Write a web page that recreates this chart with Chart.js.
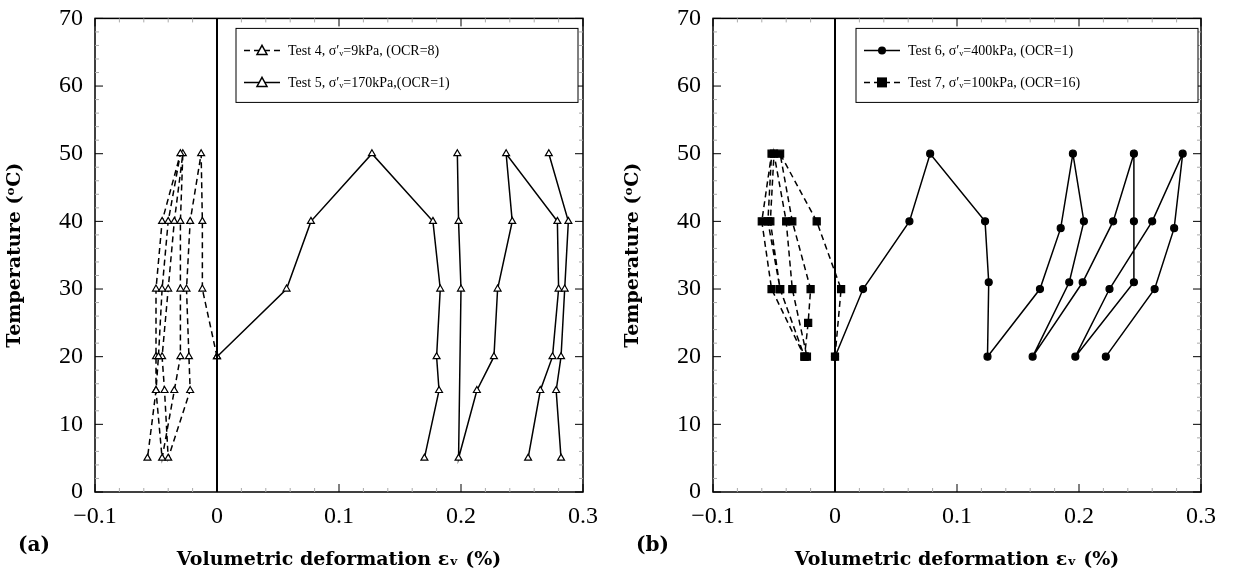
<!DOCTYPE html>
<html><head><meta charset="utf-8">
<script src="https://cdn.jsdelivr.net/npm/chart.js@4/dist/chart.umd.min.js"></script>
<style>
body{margin:0;background:#fff;width:1236px;height:575px;position:relative;overflow:hidden}
.box{position:absolute;top:0;width:618px;height:575px}
</style></head><body>
<div class="box" style="left:0"><canvas id="ca"></canvas></div>
<div class="box" style="left:618px"><canvas id="cb"></canvas></div>
<script>
// dados (x = deformação volumétrica %, y = temperatura)
const test4X = [0,-0.012,-0.012,-0.013,-0.022,-0.025,-0.023,-0.022,-0.040,-0.043,-0.045,-0.040,-0.035,-0.028,-0.030,-0.030,-0.030,-0.035,-0.045,-0.050,-0.050,-0.050,-0.045,-0.030,-0.040,-0.045,-0.048,-0.050,-0.057];
const test4Y = [20,30,40,50,40,30,20,15,5,15,20,30,40,50,40,30,20,15,5,15,20,30,40,50,40,30,20,15,5];
const test5X = [0,0.057,0.077,0.127,0.177,0.183,0.180,0.182,0.170,null,0.197,0.198,0.200,0.198,0.213,0.227,0.230,0.242,0.237,0.279,0.280,0.275,0.265,0.255,null,0.272,0.288,0.285,0.282,0.278,0.282];
const test5Y = [20,30,40,50,40,30,20,15,5,null,50,40,30,5,15,20,30,40,50,40,30,20,15,5,null,50,40,30,20,15,5];
const test6X = [0,0.023,0.061,0.078,0.123,0.126,0.125,0.168,0.185,0.195,0.204,0.192,0.162,0.203,0.228,0.245,0.245,0.245,0.197,0.225,0.260,0.285,0.278,0.262,0.222];
const test6Y = [20,30,40,50,40,31,20,30,39,50,40,31,20,31,40,50,40,31,20,30,40,50,39,30,20];
const test7X = [0,0.005,-0.015,-0.045,-0.035,-0.020,-0.022,-0.025,-0.045,-0.055,-0.052,-0.060,-0.052,-0.025,-0.045,-0.053,-0.050,-0.040,-0.035,-0.023];
const test7Y = [20,30,40,50,40,30,25,20,30,40,50,40,30,20,30,40,50,40,30,20];
const xTicks = [-0.1,0,0.1,0.2,0.3];
const yTicks = [0,10,20,30,40,50,60,70];

// null => quebra da linha
function pts(xs, ys){ return xs.map((x,i)=> x===null ? {x:xs[i-1], y:null} : {x:x,y:ys[i]}); }

const framePlugin = {
  id:'frame',
  afterDraw(chart, args, o){
    const c = chart.ctx, a = chart.chartArea, xs = chart.scales.x, ys = chart.scales.y;
    c.save();
    c.strokeStyle='#000'; c.lineWidth=1.5;
    c.strokeRect(a.left,a.top,a.right-a.left,a.bottom-a.top);
    // marcas principais e secundárias
    c.lineWidth=1;
    for(let v=-0.1; v<=0.3001; v+=0.02){
      const p = xs.getPixelForValue(v), major = Math.abs(Math.round(v*10)-v*10)<1e-6;
      const l = major?8:4; c.strokeStyle = major?'#000':'#aaa';
      c.beginPath(); c.moveTo(p,a.bottom); c.lineTo(p,a.bottom-l); c.moveTo(p,a.top); c.lineTo(p,a.top+l); c.stroke();
    }
    for(let v=0; v<=70; v+=2){
      const p = ys.getPixelForValue(v), major = v%10===0;
      const l = major?8:4; c.strokeStyle = major?'#000':'#aaa';
      c.beginPath(); c.moveTo(a.left,p); c.lineTo(a.left+l,p); c.moveTo(a.right,p); c.lineTo(a.right-l,p); c.stroke();
    }
    // legenda
    const L = o.legend, bx=a.left+o.bx, by=a.top+10, bw=342, bh=74;
    c.fillStyle='#fff'; c.fillRect(bx,by,bw,bh);
    c.strokeStyle='#000'; c.lineWidth=1; c.strokeRect(bx,by,bw,bh);
    L.forEach((it,i)=>{
      const yy = by+22+i*32;
      c.setLineDash(it.dash); c.lineWidth=1.5;
      c.beginPath(); c.moveTo(bx+8,yy); c.lineTo(bx+44,yy); c.stroke(); c.setLineDash([]);
      drawMark(c, it.mark, bx+26, yy);
      c.fillStyle='#000'; c.font='14px "Liberation Serif"'; c.textBaseline='middle';
      c.fillText(it.text, bx+52, yy+1);
    });
    c.font='bold 20px "DejaVu Serif"'; c.fillText(o.tag, 18, 546);
    c.restore();
  }
};
function drawMark(c, m, x, y){
  c.beginPath();
  if(m==='tri'){ c.moveTo(x,y-5); c.lineTo(x+5,y+4); c.lineTo(x-5,y+4); c.closePath();
    c.fillStyle='#fff'; c.fill(); c.stroke(); }
  else if(m==='dot'){ c.arc(x,y,4,0,Math.PI*2); c.fillStyle='#000'; c.fill(); }
  else { c.fillStyle='#000'; c.fillRect(x-5,y-5,10,10); }
}

function ds(data, dash, style, fill, r){
  return {data:data, borderColor:'#000', borderWidth:1.5, borderDash:dash, pointStyle:style,
    pointBackgroundColor:fill, pointBorderColor:'#000', pointRadius:r, pointBorderWidth:1.2, spanGaps:false, tension:0};
}
function makeChart(id, datasets, legend, tag){
  const el = document.getElementById(id);
  el.width=618; el.height=575;
  return new Chart(el, {
    type:'line',
    data:{datasets:[{data:[{x:0,y:0},{x:0,y:70}], borderColor:'#000', borderWidth:2, pointRadius:0}].concat(datasets)},
    options:{
      responsive:false, animation:false, devicePixelRatio:1,
      layout:{padding:{top:18,right:35,left:0,bottom:0}},
      plugins:{legend:{display:false}, tooltip:{enabled:false}, frame:{legend:legend, bx:id==='ca'?141:143, tag:tag}},
      scales:{
        x:{type:'linear', min:-0.1, max:0.3, grid:{display:false}, border:{display:false},
          afterBuildTicks:s=>{s.ticks=xTicks.map(v=>({value:v}));},
          afterFit:s=>{s.height=83;},
          ticks:{color:'#000', font:{family:'Liberation Serif', size:24}, padding:2, callback:v=>v<0?'\u2212'+Math.abs(v):String(v)},
          title:{display:true, text:'Volumetric deformation \u03b5\u1d65 (%)', color:'#000', font:{family:'DejaVu Serif', size:19, weight:'bold'}, padding:{top:4}}},
        y:{type:'linear', min:0, max:70, grid:{display:false}, border:{display:false},
          afterBuildTicks:s=>{s.ticks=yTicks.map(v=>({value:v}));},
          afterFit:s=>{s.width=95;},
          ticks:{color:'#000', font:{family:'Liberation Serif', size:24}, padding:4},
          title:{display:true, text:'Temperature (\u1d52C)', color:'#000', font:{family:'DejaVu Serif', size:19, weight:'bold'}, padding:{bottom:2}}}
      }
    },
    plugins:[framePlugin]
  });
}

makeChart('ca', [
  ds(pts(test4X,test4Y), [6,4], 'triangle', '#fff', 4),
  ds(pts(test5X,test5Y), [], 'triangle', '#fff', 4)
], [
  {dash:[6,4], mark:'tri', text:'Test 4, \u03c3\u2032\u1d65=9kPa, (OCR=8)'},
  {dash:[], mark:'tri', text:'Test 5, \u03c3\u2032\u1d65=170kPa,(OCR=1)'}
], '(a)');

makeChart('cb', [
  ds(pts(test6X,test6Y), [], 'circle', '#000', 3.5),
  ds(pts(test7X,test7Y), [6,4], 'rect', '#000', 5)
], [
  {dash:[], mark:'dot', text:'Test 6, \u03c3\u2032\u1d65=400kPa, (OCR=1)'},
  {dash:[6,4], mark:'sq', text:'Test 7, \u03c3\u2032\u1d65=100kPa, (OCR=16)'}
], '(b)');
</script>
</body></html>
